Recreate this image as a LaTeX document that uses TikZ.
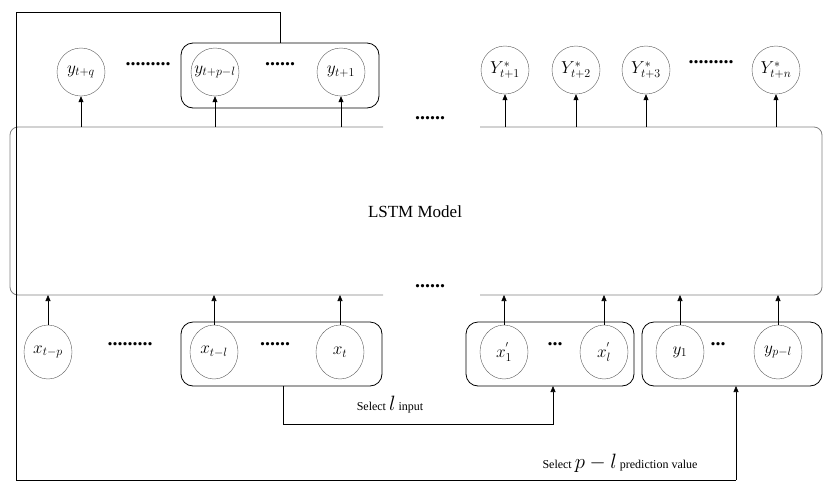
\documentclass[tikz,border=0pt]{standalone}
\usepackage{fontspec}
\setmainfont{Liberation Serif}
\usetikzlibrary{arrows.meta,shapes.geometric}
\begin{document}
\begin{tikzpicture}[x=1pt,y=-1pt,
  nd/.style={draw,gray!70!black,ellipse,minimum width=48pt,minimum height=54pt,inner sep=0pt,text=black,font=\fontsize{18}{18}\selectfont},
  ndt/.style={draw,gray!70!black,circle,minimum size=48pt,inner sep=0pt,text=black,font=\fontsize{18}{18}\selectfont},
  grp/.style={draw,rounded corners=12pt,line width=0.8pt},
  arr/.style={-{Triangle[length=6pt,width=5pt]},line width=0.6pt},
  dots/.style={font=\fontsize{20}{20}\selectfont\bfseries}]
\useasboundingbox (0,0) rectangle (831,491);
% LSTM box
\draw[gray,line width=0.8pt,rounded corners=8pt] (383,127) -- (10,127) -- (10,295) -- (383,295);
\draw[gray,line width=0.8pt,rounded corners=8pt] (480,127) -- (822,127) -- (822,295) -- (480,295);
\node (lstm) at (415,212) {\fontsize{17}{17}\selectfont LSTM Model};
\node[dots] at (430,118) {......};
\node[dots] at (430,286) {......};
% top
\node[grp,minimum width=198pt,minimum height=65pt] (tg) at (280,75.5) {};
\node[ndt] (yq) at (81,72) {$y_{t+q}$};
\node[ndt] (ypl) at (215,72) {$y_{t+p-l}$};
\node[ndt] (y1t) at (341,72) {$y_{t+1}$};
\node[dots] at (148,64) {.........};
\node[dots] at (280,64) {......};
\node[ndt] (Y1) at (505,70) {$Y^*_{t+1}$};
\node[ndt] (Y2) at (576,70) {$Y^*_{t+2}$};
\node[ndt] (Y3) at (646,70) {$Y^*_{t+3}$};
\node[ndt] (Yn) at (776,70) {$Y^*_{t+n}$};
\node[dots] at (711,62) {.........};
\foreach \n/\x in {yq/81,ypl/215,y1t/341,Y1/505,Y2/576,Y3/646,Yn/776}
  \draw[arr] (\x,127) -- (\n.south);
% bottom
\node[grp,minimum width=201pt,minimum height=64pt] (bg1) at (281.5,354) {};
\node[grp,minimum width=168pt,minimum height=64pt] (bg2) at (550,354) {};
\node[grp,minimum width=180pt,minimum height=64pt] (bg3) at (732,354) {};
\node[nd] (xtp) at (48,352) {$x_{t-p}$};
\node[nd] (xtl) at (214,352) {$x_{t-l}$};
\node[nd] (xt) at (340,352) {$x_{t}$};
\node[nd] (x1) at (504,352) {$x_1^{'}$};
\node[nd] (xl) at (604,352) {$x_l^{'}$};
\node[nd] (yy1) at (680,352) {$y_1$};
\node[nd] (ypl2) at (778,352) {$y_{p-l}$};
\node[dots] at (130,344) {.........};
\node[dots] at (275,344) {......};
\node[dots] at (555,344) {...};
\node[dots] at (718,344) {...};
\foreach \n/\x in {xtp/48,xtl/214,xt/340,x1/504,xl/604,yy1/680,ypl2/778}
  \draw[arr] (\n.north) -- (\x,295);
% select l
\coordinate (s1) at (283,424);
\coordinate (s2) at (553,424);
\draw[arr] (283,386) -- (s1) -- (s2) -- (553,386);
\node at (390,405) {\fontsize{12}{12}\selectfont Select {\fontsize{20}{20}\selectfont$l$} input};
% feedback
\coordinate (f1) at (280,12);
\coordinate (f2) at (16,12);
\coordinate (f3) at (16,480);
\coordinate (f4) at (736,480);
\draw[line width=0.8pt] (tg.north) -- (f1) -- (f2) -- (f3) -- (f4);
\draw[arr] (f4) -- (736,386);
\node at (620,463) {\fontsize{12}{12}\selectfont Select {\fontsize{20}{20}\selectfont$p-l$} prediction value};
\end{tikzpicture}
\end{document}
